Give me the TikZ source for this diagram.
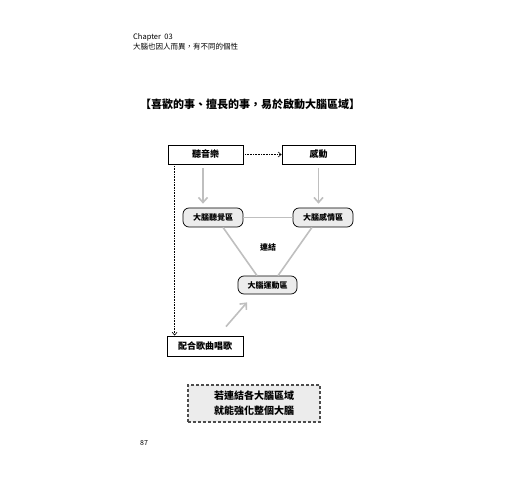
\documentclass[tikz,border=0pt]{standalone}
\usepackage{fontspec}
\setmainfont{Noto Sans CJK TC}
\usepackage{xcolor}
\usepackage{tikz}
\usetikzlibrary{arrows.meta,positioning}

\begin{document}
\begin{tikzpicture}[x=1pt,y=-1pt,
  actbox/.style={draw,line width=0.8pt,minimum height=19pt,inner sep=0pt,font=\bfseries\fontsize{9}{10}\selectfont},
  areabox/.style={draw,line width=0.7pt,rounded corners=6pt,fill=gray!15,minimum width=60pt,minimum height=19pt,inner sep=0pt,font=\bfseries\fontsize{8}{9}\selectfont},
  grayline/.style={draw=gray!50,line width=1.6pt},
  grayarrow/.style={grayline,-{Straight Barb[length=5pt,width=9pt]}}]
\useasboundingbox (0,0) rectangle (520,500);
% header
\node[font=\fontsize{7.5}{8}\selectfont,anchor=west,inner sep=0pt] (chap) at (133,37) {Chapter\ \ 03};
\node[font=\fontsize{7.5}{8}\selectfont,anchor=west,inner sep=0pt] (sub) at (133,47) {大腦也因人而異，有不同的個性};
\node[font=\bfseries\fontsize{11}{12}\selectfont] (title) at (250,104) {【喜歡的事、擅長的事，易於啟動大腦區域】};
% activities
\node[actbox,minimum width=75pt] (listen) at (205.5,154.5) {聽音樂};
\node[actbox,minimum width=73pt] (moved) at (318.5,154.5) {感動};
\node[actbox,minimum width=76pt,minimum height=20pt] (sing) at (205,346) {配合歌曲唱歌};
% brain areas
\node[areabox] (hear) at (213,217.5) {大腦聽覺區};
\node[areabox] (emo) at (323,217.5) {大腦感情區};
\node[areabox,minimum width=59pt,minimum height=18pt] (motor) at (267.5,285) {大腦運動區};
\node[font=\bfseries\fontsize{8}{9}\selectfont] (link) at (268,247) {連結};
% connectors
\draw[densely dotted,semithick,-{Straight Barb[length=3pt,width=5pt]}] (listen) -- (moved);
\draw[densely dotted,semithick,-{Straight Barb[length=3pt,width=5pt]}] ([xshift=7pt]listen.south west) -- ([xshift=8pt]sing.north west);
\draw[grayarrow,shorten <=4pt,shorten >=4pt] ([xshift=-2.5pt]listen.south) -- ([xshift=-2.5pt]listen.south |- hear.north);
\draw[grayarrow,shorten <=4pt,shorten >=4pt] (moved.south) -- (moved.south |- emo.north);
\draw[grayline] (hear) -- (emo);
\draw[grayline] ([xshift=10pt]hear.south) -- ([xshift=-10.5pt]motor.north);
\draw[grayline] ([xshift=-11pt]emo.south) -- ([xshift=10.5pt]motor.north);
\draw[grayarrow] ([xshift=21pt,yshift=9pt]sing.north) -- ([xshift=-20.5pt,yshift=-8pt]motor.south);
% result
\node[draw=gray!60!black,line width=1.6pt,densely dashed,fill=gray!15,minimum width=132pt,minimum height=37pt,inner sep=0pt,align=center,font=\bfseries\fontsize{10}{15}\selectfont] (result) at (254,403.5) {若連結各大腦區域\\就能強化整個大腦};
\node[font=\fontsize{7}{8}\selectfont,anchor=west,inner sep=0pt] (page) at (140,443) {87};
\end{tikzpicture}
\end{document}
